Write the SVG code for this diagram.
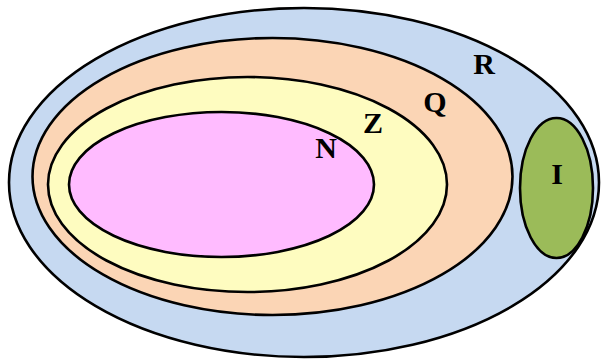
<svg xmlns="http://www.w3.org/2000/svg" width="601" height="361" viewBox="0 0 601 361">
<style>
.set{stroke:#000;stroke-width:2.6}
.lbl{font-family:"Liberation Serif","Times New Roman",serif;font-weight:bold;font-size:30px;fill:#000;text-anchor:middle}
</style>
<rect width="601" height="361" fill="#fff"/>
<g id="R"><ellipse class="set" cx="304" cy="182.5" rx="295" ry="174.5" fill="#c6d9f1"/><text class="lbl" x="484" y="74">R</text></g>
<g id="Q"><ellipse class="set" cx="272.5" cy="176.5" rx="240" ry="138.5" fill="#fbd5b5"/><text class="lbl" x="435" y="112">Q</text></g>
<g id="Z"><ellipse class="set" cx="247.5" cy="184.5" rx="199.5" ry="107.5" fill="#fefcc0"/><text class="lbl" x="373" y="133">Z</text></g>
<g id="N"><ellipse class="set" cx="221.5" cy="184.5" rx="152.5" ry="72.5" fill="#ffbbff"/><text class="lbl" x="326" y="158">N</text></g>
<g id="I"><ellipse class="set" cx="556.5" cy="188" rx="36.5" ry="70" fill="#9bbb59"/><text class="lbl" x="557" y="184">I</text></g>
<g id="connectors"/>
</svg>
